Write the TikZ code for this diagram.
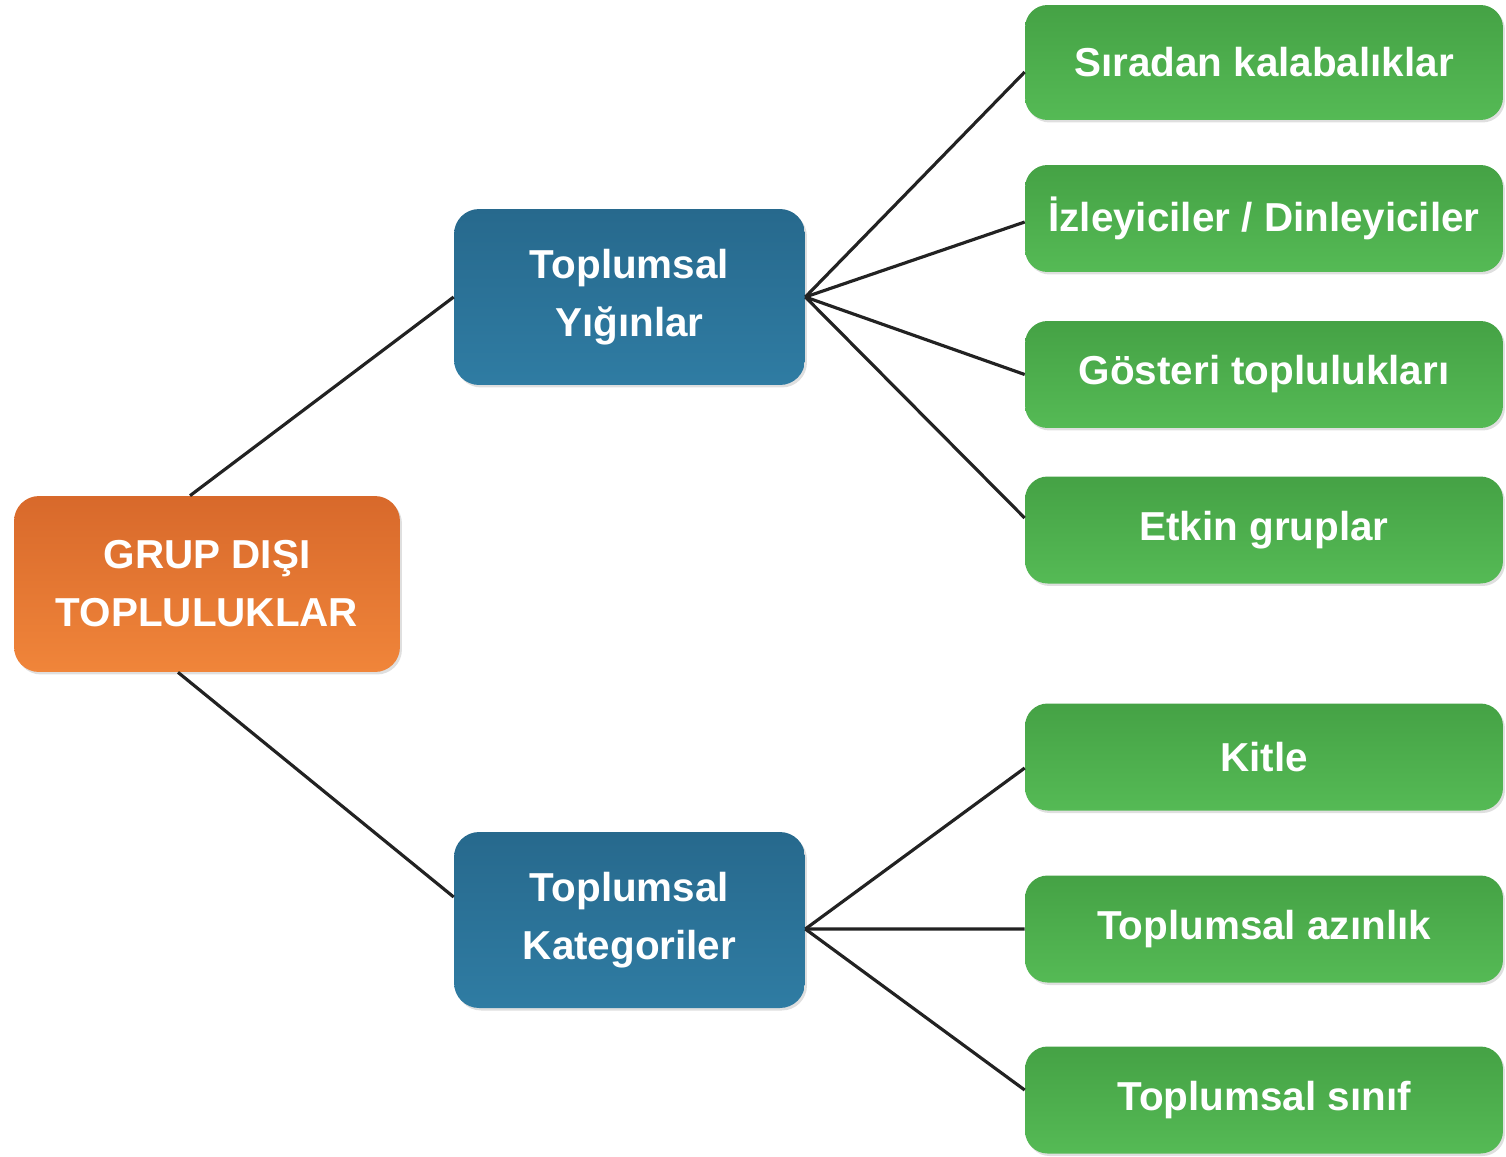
\documentclass[tikz,border=0pt]{standalone}
\usepackage{fontspec}
\setmainfont{Liberation Sans}
\usetikzlibrary{shadows}
\definecolor{orTop}{HTML}{D8692B}
\definecolor{orBot}{HTML}{F0853A}
\definecolor{blTop}{HTML}{27698D}
\definecolor{blBot}{HTML}{2F7CA3}
\definecolor{grTop}{HTML}{45A245}
\definecolor{grBot}{HTML}{55BA55}
\definecolor{lineC}{HTML}{222222}
\tikzset{
  boxbase/.style={rounded corners=0.5cm, align=center, text=white,
    font=\bfseries\fontsize{23}{33}\selectfont, inner sep=0pt,
    drop shadow={shadow xshift=0.04cm, shadow yshift=-0.05cm, opacity=0.25}},
  rootbox/.style={boxbase, top color=orTop, bottom color=orBot,
    minimum width=7.72cm, minimum height=3.52cm},
  midbox/.style={boxbase, top color=blTop, bottom color=blBot,
    minimum width=7.02cm, minimum height=3.52cm},
  leafbox/.style={boxbase, rounded corners=0.45cm, top color=grTop, bottom color=grBot,
    minimum width=9.56cm, minimum height=2.14cm},
  conn/.style={draw=lineC, line width=1.8pt}
}
\begin{document}
\begin{tikzpicture}[x=0.02cm,y=-0.02cm]
\useasboundingbox (0,0) rectangle (1506,1156);
\node[rootbox] (root) at (207,584) {GRUP DIŞI\\TOPLULUKLAR};
\node[midbox] (m1) at (629.5,297) {Toplumsal\\Yığınlar};
\node[midbox] (m2) at (629.5,920) {Toplumsal\\Kategoriler};
\node[leafbox, minimum height=2.3cm] (g1) at (1264,62.5) {Sıradan kalabalıklar};
\node[leafbox] (g2) at (1264,218.5) {İzleyiciler / Dinleyiciler};
\node[leafbox] (g3) at (1264,374.5) {Gösteri toplulukları};
\node[leafbox] (g4) at (1264,530) {Etkin gruplar};
\node[leafbox] (g5) at (1264,757) {Kitle};
\node[leafbox] (g6) at (1264,929) {Toplumsal azınlık};
\node[leafbox] (g7) at (1264,1100) {Toplumsal sınıf};
\coordinate (m2o) at ([yshift=-0.18cm]m2.east);
\draw[conn] ([xshift=-0.34cm]root.north) -- (m1.west);
\draw[conn] ([xshift=-0.58cm]root.south) -- ([yshift=0.46cm]m2.west);
\draw[conn] (m1.east) -- ([yshift=-0.19cm]g1.west);
\draw[conn] (m1.east) -- ([yshift=-0.07cm]g2.west);
\draw[conn] (m1.east) -- (g3.west);
\draw[conn] (m1.east) -- ([yshift=0.24cm]g4.west);
\draw[conn] (m2o) -- ([yshift=-0.22cm]g5.west);
\draw[conn] (m2o) -- (g6.west);
\draw[conn] (m2o) -- ([yshift=0.2cm]g7.west);
\end{tikzpicture}
\end{document}
